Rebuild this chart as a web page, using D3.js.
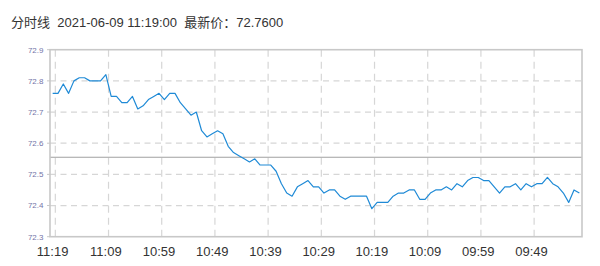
<!DOCTYPE html>
<html>
<head>
<meta charset="utf-8">
<script src="https://cdn.jsdelivr.net/npm/d3@7"></script>
<style>
  html, body { margin: 0; padding: 0; background: #fff; }
  svg { display: block; }
</style>
</head>
<body>
<svg id="chart" width="600" height="266"></svg>
<script>
// ---- data ----
const titleText = "分时线  2021-06-09 11:19:00  最新价：72.7600";
const prices = [
  72.76, 72.76, 72.79, 72.76, 72.80, 72.81, 72.81, 72.80, 72.80, 72.80,
  72.82, 72.75, 72.75, 72.73, 72.73, 72.75, 72.71, 72.72, 72.74, 72.75,
  72.76, 72.74, 72.76, 72.76, 72.73, 72.71, 72.69, 72.70, 72.64, 72.62,
  72.63, 72.64, 72.63, 72.59, 72.57, 72.56, 72.55, 72.54, 72.55, 72.53,
  72.53, 72.53, 72.51, 72.47, 72.44, 72.43, 72.46, 72.47, 72.48, 72.46,
  72.46, 72.44, 72.45, 72.45, 72.43, 72.42, 72.43, 72.43, 72.43, 72.43,
  72.39, 72.41, 72.41, 72.41, 72.43, 72.44, 72.44, 72.45, 72.45, 72.42,
  72.42, 72.44, 72.45, 72.45, 72.46, 72.45, 72.47, 72.46, 72.48, 72.49,
  72.49, 72.48, 72.48, 72.46, 72.44, 72.46, 72.46, 72.47, 72.45, 72.47,
  72.46, 72.47, 72.47, 72.49, 72.47, 72.46, 72.44, 72.41, 72.45, 72.44
];
const xTickLabels = ["11:19", "11:09", "10:59", "10:49", "10:39", "10:29", "10:19", "10:09", "09:59", "09:49"];
const xTickIndex = [0, 10, 20, 30, 40, 50, 60, 70, 80, 90];
const yTicks = [72.3, 72.4, 72.5, 72.6, 72.7, 72.8, 72.9];
const yDomain = [72.3, 72.9];
const refPrice = 72.555;

// ---- layout ----
const padL = 50, padR = 582, padT = 49.7, padB = 236.7;
const svg = d3.select("#chart");

const x = d3.scaleBand().domain(d3.range(prices.length)).range([padL, padR]).paddingInner(0).paddingOuter(0);
const cx = i => x(i) + x.bandwidth() / 2;
const y = d3.scaleLinear().domain(yDomain).range([padB, padT]);

// title
svg.append("text")
  .attr("x", 11).attr("y", 27)
  .attr("font-family", "'Liberation Sans', Arial, 'Noto Sans CJK SC', sans-serif")
  .attr("font-size", 13)
  .attr("fill", "#333")
  .style("white-space", "pre")
  .text(titleText);

const grid = svg.append("g");
// horizontal dashed grid (with short ticks left of the axis)
grid.selectAll("line.h").data(yTicks.slice(1, -1)).enter().append("line")
  .attr("x1", padL).attr("x2", padR)
  .attr("y1", d => y(d)).attr("y2", d => y(d))
  .attr("stroke", "#d6d6d6").attr("stroke-width", 1.2)
  .attr("stroke-dasharray", "6,4.5");
grid.selectAll("line.t").data(yTicks).enter().append("line")
  .attr("x1", padL - 3).attr("x2", padL)
  .attr("y1", d => y(d)).attr("y2", d => y(d))
  .attr("stroke", "#c8c8c8").attr("stroke-width", 1);
// vertical dashed grid at band boundaries after labelled points
grid.selectAll("line.v").data(xTickIndex).enter().append("line")
  .attr("x1", d => x(d) + x.bandwidth()).attr("x2", d => x(d) + x.bandwidth())
  .attr("y1", padT).attr("y2", padB)
  .attr("stroke", "#d6d6d6").attr("stroke-width", 1.2)
  .attr("stroke-dasharray", "7,5");

// reference (previous close) line
svg.append("line")
  .attr("x1", padL).attr("x2", padR)
  .attr("y1", y(refPrice)).attr("y2", y(refPrice))
  .attr("stroke", "#a0a0a0").attr("stroke-width", 1.2);

// border
svg.append("rect")
  .attr("x", padL).attr("y", padT)
  .attr("width", padR - padL).attr("height", padB - padT)
  .attr("fill", "none").attr("stroke", "#c8c8c8").attr("stroke-width", 1.6);

// y labels
svg.append("g").selectAll("text").data(yTicks).enter().append("text")
  .attr("x", 43.5).attr("y", d => y(d))
  .attr("dy", "0.35em")
  .attr("text-anchor", "end")
  .attr("font-family", "'Liberation Sans', Arial, sans-serif")
  .attr("font-size", 8)
  .attr("fill", "#7474a8")
  .text(d => d3.format(".1f")(d));

// x labels
svg.append("g").selectAll("text").data(xTickIndex).enter().append("text")
  .attr("x", d => cx(d)).attr("y", 256)
  .attr("text-anchor", "middle")
  .attr("font-family", "'Liberation Sans', Arial, sans-serif")
  .attr("font-size", 13)
  .attr("fill", "#333")
  .text((d, i) => xTickLabels[i]);

// price line
const line = d3.line().x((d, i) => cx(i)).y(d => y(d));
svg.append("path")
  .datum(prices)
  .attr("d", line)
  .attr("fill", "none")
  .attr("stroke", "#1f8ad6")
  .attr("stroke-width", 1.2)
  .attr("stroke-linejoin", "round");
</script>
</body>
</html>
